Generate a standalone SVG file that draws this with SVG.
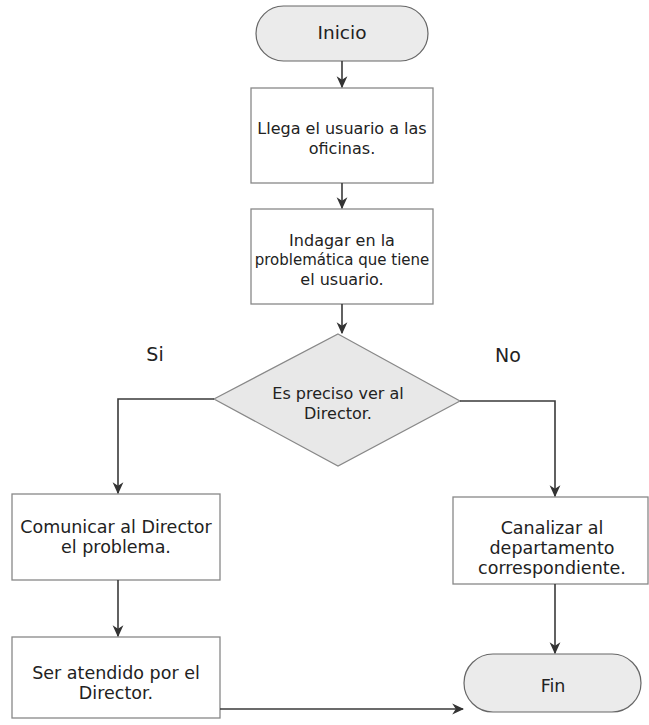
<svg xmlns="http://www.w3.org/2000/svg" width="649" height="725" viewBox="0 0 649 725">
<style>
.term{fill:#ebebeb;stroke:#666;stroke-width:1.2}
.box{fill:#fff;stroke:#888;stroke-width:1.3}
.dec{fill:#e8e8e8;stroke:#888;stroke-width:1.2}
.t{font-family:"DejaVu Sans","Liberation Sans",sans-serif;font-size:16px;fill:#222;text-anchor:middle}
.b{font-size:17.5px}
.lbl{font-family:"DejaVu Sans","Liberation Sans",sans-serif;font-size:19px;fill:#222;text-anchor:middle}
.c{fill:none;stroke:#3a3a3a;stroke-width:1.6}
</style>
<defs>
<marker id="ah" viewBox="0 0 10 10" refX="9" refY="5" markerWidth="12" markerHeight="12" markerUnits="userSpaceOnUse" orient="auto">
<path d="M0,0.5 L10,5 L0,9.5 L3,5 z" fill="#333"/>
</marker>
</defs>
<rect width="649" height="725" fill="#fff"/>
<g id="inicio"><rect class="term" x="256" y="6" width="172" height="55" rx="27.5"/><text class="t" x="342" y="39" style="font-size:18.5px">Inicio</text></g>
<g id="llega"><rect class="box" x="251" y="88" width="182" height="95"/><text class="t" x="342" y="134">Llega el usuario a las</text><text class="t" x="342" y="154">oficinas.</text></g>
<g id="indagar"><rect class="box" x="251" y="209" width="182" height="95"/><text class="t" x="342" y="246">Indagar en la</text><text class="t" x="342" y="265" style="font-size:15px">problemática que  tiene</text><text class="t" x="342" y="285">el usuario.</text></g>
<g id="decision"><polygon class="dec" points="338,334 460,401 338,466 214,399"/><text class="t" x="338" y="399">Es preciso ver al</text><text class="t" x="338" y="419">Director.</text></g>
<g id="comunicar"><rect class="box" x="12" y="494" width="208" height="86"/><text class="t b" x="116" y="533">Comunicar al Director</text><text class="t b" x="116" y="553">el problema.</text></g>
<g id="atendido"><rect class="box" x="12" y="637" width="208" height="81"/><text class="t b" x="116" y="679">Ser atendido por el</text><text class="t b" x="116" y="699">Director.</text></g>
<g id="canalizar"><rect class="box" x="453" y="497" width="195" height="87"/><text class="t b" x="552" y="534">Canalizar al</text><text class="t b" x="552" y="554">departamento</text><text class="t b" x="552" y="574">correspondiente.</text></g>
<g id="fin"><rect class="term" x="464" y="654" width="177" height="58" rx="29"/><text class="t" x="553" y="692" style="font-size:17.5px">Fin</text></g>
<g id="connectors">
<line class="c" x1="342" y1="61" x2="342" y2="87" marker-end="url(#ah)"/>
<line class="c" x1="342" y1="183" x2="342" y2="208" marker-end="url(#ah)"/>
<line class="c" x1="342" y1="304" x2="342" y2="333" marker-end="url(#ah)"/>
<polyline class="c" points="214,399 118,399 118,493" marker-end="url(#ah)"/>
<polyline class="c" points="460,401 555,401 555,496" marker-end="url(#ah)"/>
<line class="c" x1="118" y1="580" x2="118" y2="636" marker-end="url(#ah)"/>
<line class="c" x1="555" y1="584" x2="555" y2="653" marker-end="url(#ah)"/>
<line class="c" x1="220" y1="709" x2="463" y2="709" marker-end="url(#ah)"/>
<text class="lbl" x="155" y="361">Si</text>
<text class="lbl" x="508" y="362">No</text>
</g>
</svg>
